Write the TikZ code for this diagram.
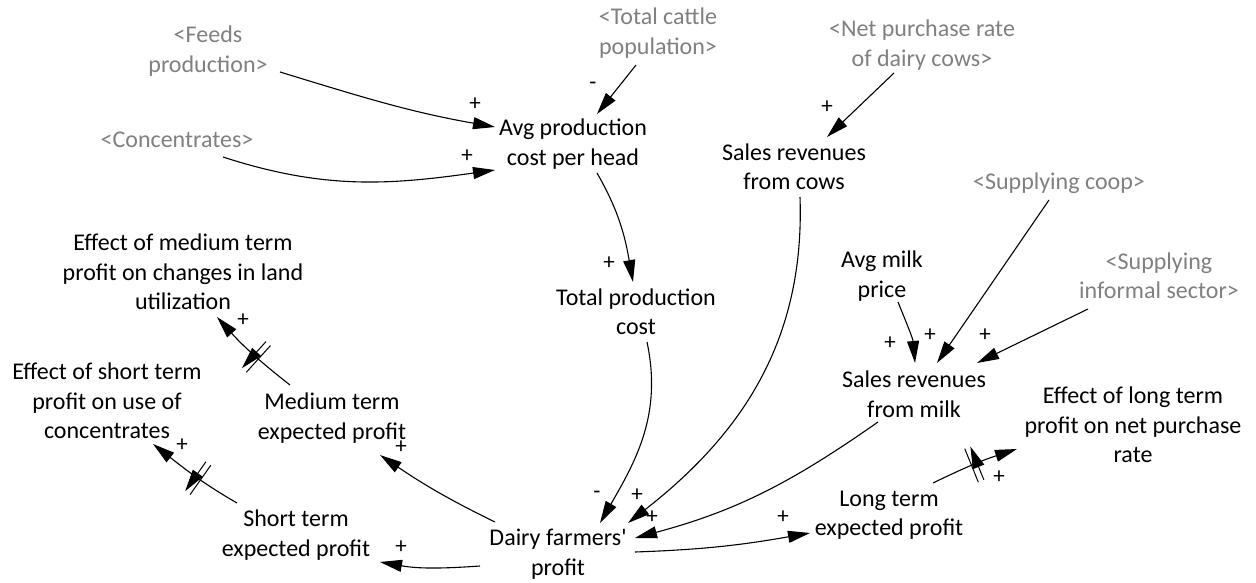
\documentclass[tikz,border=0pt]{standalone}
\usepackage{fontspec}
\setmainfont{Carlito}
\usetikzlibrary{arrows.meta,decorations.markings}
\definecolor{shadowgray}{RGB}{128,128,128}
\begin{document}
\begin{tikzpicture}[x=1pt,y=1pt,
  lbl/.style={align=center,inner sep=0pt,font=\fontsize{24}{29.5}\selectfont},
  shadowvar/.style={lbl,text=shadowgray},
  pol/.style={inner sep=0pt,font=\fontsize{23}{23}\selectfont},
  arr/.style={line width=1.1pt,-{Triangle[length=22pt,width=12pt]}},
  hatch/.style={postaction={decorate,decoration={markings,mark=at position #1 with {\draw[line width=1pt] (-3,-18)--(-3,18) (3,-18)--(3,18);}}}}
]
\useasboundingbox (0,0) rectangle (1256,-583);

% variables
\node[shadowvar] (feeds) at (208,-51) {<Feeds\\production>};
\node[shadowvar] (conc) at (177,-140) {<Concentrates>};
\node[shadowvar] (cattle) at (658,-33) {<Total cattle\\population>};
\node[shadowvar] (netp) at (922,-45) {<Net purchase rate\\of dairy cows>};
\node[lbl] (avg) at (573,-144) {Avg production\\cost per head};
\node[lbl] (cows) at (794,-167) {Sales revenues\\from cows};
\node[shadowvar] (coop) at (1059,-183) {<Supplying coop>};
\node[shadowvar] (inf) at (1159,-276) {<Supplying\\informal sector>};
\node[lbl] (milkp) at (882,-276) {Avg milk\\price};
\node[lbl] (effmed) at (183,-272) {Effect of medium term\\profit on changes in land\\utilization};
\node[lbl] (tpc) at (636,-312) {Total production\\cost};
\node[lbl] (milk) at (914,-394) {Sales revenues\\from milk};
\node[lbl] (effshort) at (107,-401) {Effect of short term\\profit on use of\\concentrates};
\node[lbl] (med) at (332,-418) {Medium term\\expected profit};
\node[lbl] (efflong) at (1133,-425) {Effect of long term\\profit on net purchase\\rate};
\node[lbl] (short) at (296,-535) {Short term\\expected profit};
\node[lbl] (dairy) at (558,-554) {Dairy farmers\textquotesingle\\profit};
\node[lbl] (long) at (889,-515) {Long term\\expected profit};

% connectors
\draw[arr] ([shift={(72,-21)}]feeds.center) to[out=-17,in=170] ([shift={(-78,17)}]avg.center);
\draw[arr] ([shift={(46,-17)}]conc.center) to[out=-18,in=-172] ([shift={(-78,-26)}]avg.center);
\draw[arr] ([shift={(-22,-32)}]cattle.center) -- ([shift={(24,30)}]avg.center);
\draw[arr] ([shift={(-28,-28)}]netp.center) -- ([shift={(33,30)}]cows.center);
\draw[arr] ([shift={(24,-29)}]avg.center) to[out=-60,in=100] ([shift={(-3,30)}]tpc.center);
\draw[arr] ([shift={(11,-30)}]tpc.center) to[out=-78,in=60] ([shift={(42,31)}]dairy.center);
\draw[arr] ([shift={(6,-30)}]cows.center) to[out=-88,in=38] ([shift={(70,31)}]dairy.center);
\draw[arr] ([shift={(-36,-28)}]milk.center) to[out=-145,in=15] ([shift={(77,16)}]dairy.center);
\draw[arr] ([shift={(16,-26)}]milkp.center) to[out=-68,in=95] ([shift={(1,31)}]milk.center);
\draw[arr] ([shift={(-10,-17)}]coop.center) -- ([shift={(23,31)}]milk.center);
\draw[arr] ([shift={(-71,-33)}]inf.center) -- ([shift={(63,31)}]milk.center);
\draw[arr] ([shift={(-63,32)}]dairy.center) to[out=154,in=-34] ([shift={(48,-37)}]med.center);
\draw[arr] ([shift={(-78,-12)}]dairy.center) to[out=184,in=-10] ([shift={(84,-27)}]short.center);
\draw[arr] ([shift={(77,2)}]dairy.center) to[out=2,in=190] ([shift={(-79,-18)}]long.center);
\draw[arr,hatch=0.5] ([shift={(44,32)}]long.center) to[out=26,in=198] ([shift={(-116,-24)}]efflong.center);
\draw[arr,hatch=0.44] ([shift={(-42,33)}]med.center) to[out=142,in=-48] ([shift={(34,-45)}]effmed.center);
\draw[arr,hatch=0.45] ([shift={(-59,32)}]short.center) to[out=150,in=-38] ([shift={(46,-43)}]effshort.center);

% polarities
\node[pol] (p1) at (475,-104) {+};
\node[pol] (p2) at (467,-156) {+};
\node[pol] (p3) at (593,-86) {-};
\node[pol] (p4) at (827,-107) {+};
\node[pol] (p5) at (609,-263) {+};
\node[pol] (p6) at (597,-495) {-};
\node[pol] (p7) at (637,-495) {+};
\node[pol] (p8) at (652,-517) {+};
\node[pol] (p9) at (890,-343) {+};
\node[pol] (p10) at (930,-335) {+};
\node[pol] (p11) at (985,-335) {+};
\node[pol] (p12) at (401,-447) {+};
\node[pol] (p13) at (401,-547) {+};
\node[pol] (p14) at (783,-517) {+};
\node[pol] (p15) at (999,-477) {+};
\node[pol] (p16) at (243,-320) {+};
\node[pol] (p17) at (182,-445) {+};
\end{tikzpicture}
\end{document}
